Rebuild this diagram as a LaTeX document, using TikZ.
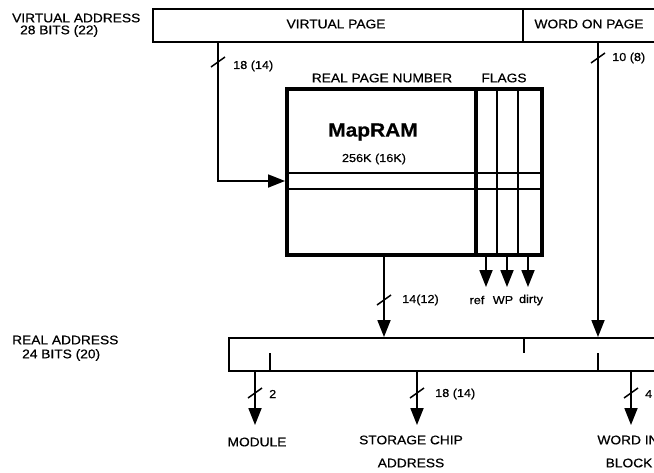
\documentclass[tikz,border=0pt]{standalone}
\usepackage{fontspec}
\setmainfont[FakeStretch=1.1,FakeBold=0.6]{Liberation Sans}
\usetikzlibrary{positioning,arrows.meta}

\begin{document}
\begin{tikzpicture}[x=1pt,y=-1pt,
                every node/.style={font=\fontsize{12.5}{14}\selectfont, inner sep=0pt},
                reg/.style={draw, line width=1.8pt, anchor=north west},
                small/.style={font=\fontsize{11.5}{13}\selectfont},
                bus/.style={draw, line width=1.8pt},
                arrow/.style={draw, line width=1.8pt, -{Triangle[width=13pt,length=17pt]}},
                tick/.style={line width=1.5pt}
            ]
            \useasboundingbox (0,0) rectangle (654,472);
            \clip (0,0) rectangle (654,472);
            
            % Virtual address register
            \node [reg, minimum width=540, minimum height=33] (va) at (152,8) {};
            \node (vpage) at (336,24) {VIRTUAL PAGE};
            \node (wpage) at (589,24) {WORD ON PAGE};
            \coordinate (vsplit) at (523,8);
            \draw[bus] (vsplit) -- (vsplit |- va.south);
            \node [anchor=west] (valbl) at (12,18) {VIRTUAL ADDRESS};
            \node [anchor=west] (vabits) at (20,31) {28 BITS (22)};
            
            % MapRAM
            \node [draw, line width=3.5pt, minimum width=255, minimum height=166, anchor=north west] (map) at (285,87) {};
            \coordinate (fsplit) at (476,87);
            \coordinate (fa) at (497,87);
            \coordinate (fb) at (518,87);
            \coordinate (rowtop) at (285,173);
            \coordinate (rowbot) at (285,189);
            \coordinate (row) at (285,181);
            \draw[line width=3.5pt] (fsplit) -- (fsplit |- map.south);
            \draw[bus] (fa) -- (fa |- map.south);
            \draw[bus] (fb) -- (fb |- map.south);
            \draw[bus] (rowtop) -- (rowtop -| map.east);
            \draw[bus] (rowbot) -- (rowbot -| map.east);
            \node (rpn) at (382,78) {REAL PAGE NUMBER};
            \node (flags) at (504,78) {FLAGS};
            \node [font=\fontsize{19}{22}\selectfont\bfseries] (mapname) at (373,132) {MapRAM};
            \node [small] (mapsize) at (374,159) {256K (16K)};
            
            % Real address register
            \node [reg, minimum width=500, minimum height=33] (ra) at (228,337) {};
            \coordinate (rsa) at (270,370);
            \coordinate (rsb) at (524,337);
            \coordinate (rsc) at (598,370);
            \draw[bus] (rsa) -- ++(0,-17);
            \draw[bus] (rsb) -- ++(0,16);
            \draw[bus] (rsc) -- ++(0,-17);
            \node [anchor=west] (ralbl) at (12,340) {REAL ADDRESS};
            \node [anchor=west] (rabits) at (22,355) {24 BITS (20)};
            
            % Virtual page into MapRAM
            \coordinate (vpbits) at (218,41);
            \draw[arrow] (vpbits) |- (row);
            \draw[tick] (211,67) -- (225,57);
            \node [small, anchor=west] (vpn) at (233,66) {18 (14)};
            
            % Word on page
            \coordinate (wpbits) at (598,41);
            \coordinate (wpin) at (598,337);
            \draw[arrow] (wpbits) -- (wpin);
            \draw[tick] (591,63) -- (605,53);
            \node [small, anchor=west] (wpn) at (612,58) {10 (8)};
            
            % Real page number out
            \coordinate (rpout) at (384,253);
            \coordinate (rpin) at (384,337);
            \draw[arrow] (rpout) -- (rpin);
            \draw[tick] (377,305) -- (391,295);
            \node [small, anchor=west] (rpnbits) at (402,300) {14(12)};
            
            % Flags out
            \coordinate (fref) at (486,253);
            \coordinate (fwp) at (507,253);
            \coordinate (fdirty) at (528,253);
            \draw[arrow] (fref) -- ++(0,34) coordinate (frefend);
            \draw[arrow] (fwp) -- ++(0,34) coordinate (fwpend);
            \draw[arrow] (fdirty) -- ++(0,34) coordinate (fdirtyend);
            \node [small] (ref) at (477,300) {ref};
            \node [small] (wp) at (503,300) {WP};
            \node [small] (dirty) at (531,300) {dirty};
            
            % Real address fields out
            \coordinate (mod) at (255,370);
            \coordinate (chip) at (417,370);
            \coordinate (word) at (631,370);
            \draw[arrow] (mod) -- ++(0,55);
            \draw[arrow] (chip) -- ++(0,55);
            \draw[arrow] (word) -- ++(0,55);
            \draw[tick] (248,398) -- (262,388);
            \draw[tick] (410,398) -- (424,388);
            \draw[tick] (624,398) -- (638,388);
            \node [small, anchor=west] (modbits) at (269,394) {2};
            \node [small, anchor=west] (chipbits) at (435,394) {18 (14)};
            \node [small, anchor=west] (wordbits) at (645,394) {4};
            \node (modlbl) at (257,442) {MODULE};
            \node (chiplbl) at (411,440) {STORAGE CHIP};
            \node (chiplbl2) at (411,463) {ADDRESS};
            \node (wordlbl) at (628,440) {WORD IN};
            \node (wordlbl2) at (629,463) {BLOCK};
            
            \end{tikzpicture}
\end{document}
